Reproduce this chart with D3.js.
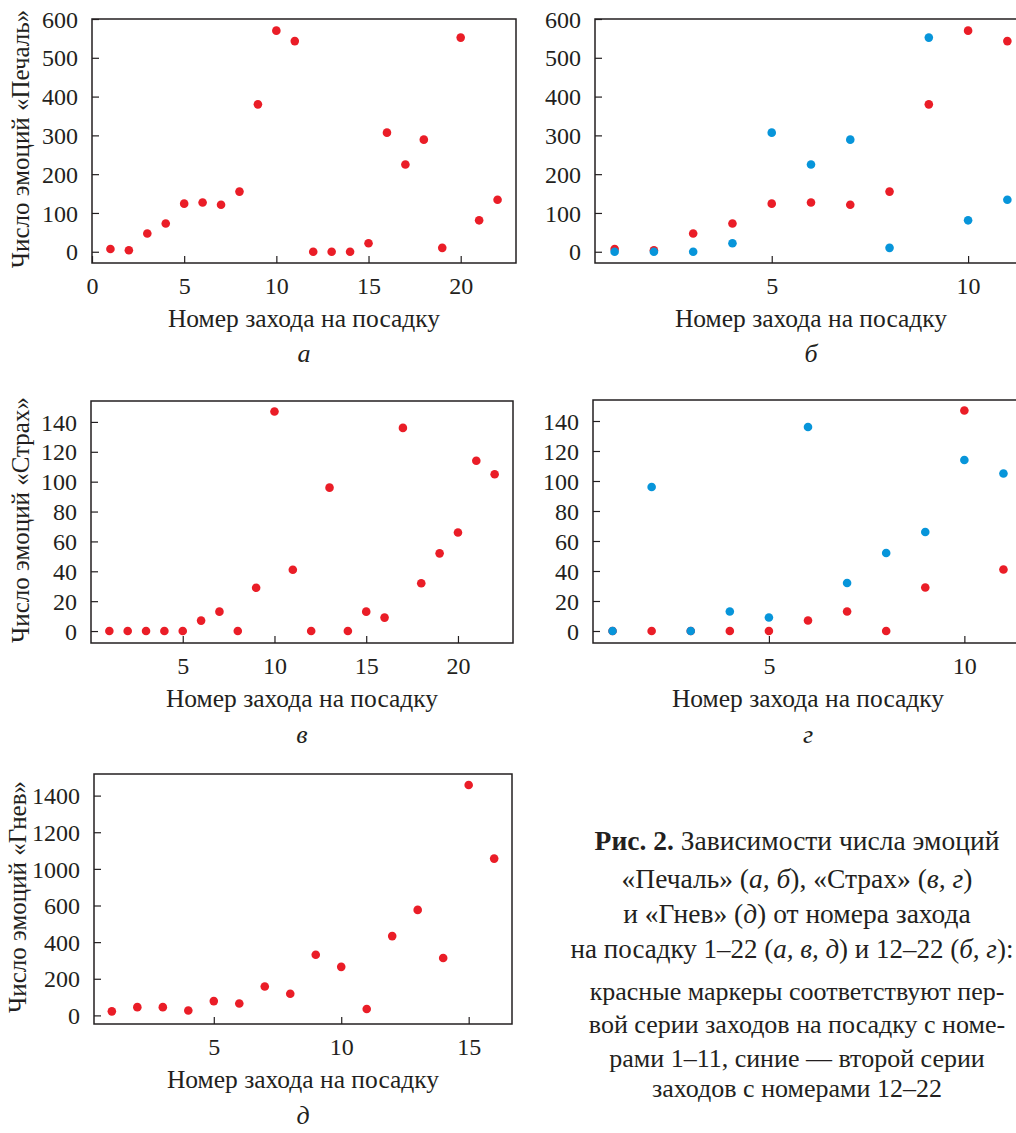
<!DOCTYPE html>
<html>
<head>
<meta charset="utf-8">
<script src="https://cdn.jsdelivr.net/npm/d3@7"></script>
<style>
  body { margin: 0; background: #fff; }
</style>
</head>
<body>
<div id="chart"></div>
<script>
// values
var attemptsAll = [1,2,3,4,5,6,7,8,9,10,11,12,13,14,15,16,17,18,19,20,21,22];
var attemptsSeries = [1,2,3,4,5,6,7,8,9,10,11];
var attemptsAnger = [1,2,3,4,5,6,7,8,9,10,11,12,13,14,15,16];

var sadness = [7,4,47,73,124,127,121,155,380,570,543,0,0,0,22,307,225,289,10,552,81,134];
var fear = [0,0,0,0,0,7,13,0,29,147,41,0,96,0,13,9,136,32,52,66,114,105];
var anger = [22,45,45,27,78,65,158,118,331,265,35,433,576,313,1258,856];

var sadnessTicks = [0,100,200,300,400,500,600];
var fearTicks = [0,20,40,60,80,100,120,140];
var angerTicks = [0,200,400,600,800,1000,1200];
var angerTickLabels = ["0","200","400","600","1000","1200","1400"];

var xLabel = "Номер захода на посадку";
var red = "#ea1d27";
var blue = "#0795da";
var ink = "#231f20";
var serif = "'Liberation Serif', 'Times New Roman', Times, 'DejaVu Serif', serif";

var svgWidth = 1016;
var svgHeight = 1133;

var svg = d3.select("#chart")
  .append("svg")
  .attr("width", svgWidth)
  .attr("height", svgHeight)
  .attr("font-family", serif)
  .style("font-family", serif);

function pairs(xs, ys) {
  return xs.map(function(x, i) { return {x: x, y: ys[i]}; });
}

function drawPanel(p) {
  var g = svg.append("g");
  var x = d3.scaleLinear().domain(p.xDomain).range([p.left, p.right]);
  var y = d3.scaleLinear().domain(p.yDomain).range([p.bottom, p.top]);

  var xAxis = d3.axisBottom(x)
    .tickValues(p.xTicks)
    .tickFormat(d3.format("d"))
    .tickSizeInner(-7)
    .tickSizeOuter(0)
    .tickPadding(14);
  var yAxis = d3.axisLeft(y)
    .tickValues(p.yTicks)
    .tickSizeInner(-7)
    .tickSizeOuter(0)
    .tickPadding(14);
  if (p.yLabels) yAxis.tickFormat(function(d, i) { return p.yLabels[i]; });

  var gx = g.append("g").attr("transform", "translate(0," + p.bottom + ")").call(xAxis);
  var gy = g.append("g").attr("transform", "translate(" + p.left + ",0)").call(yAxis);
  [gx, gy].forEach(function(a) {
    a.attr("font-family", serif).attr("font-size", 24);
    a.select(".domain").remove();
    a.selectAll("line").attr("stroke", ink).attr("stroke-width", 1.2);
    a.selectAll("text").attr("fill", ink).style("font-family", serif);
  });
  gy.selectAll("text").attr("dy", "0.34em");
  gx.selectAll("text").attr("dy", "0.71em");

  g.append("rect")
    .attr("x", p.left).attr("y", p.top)
    .attr("width", p.right - p.left).attr("height", p.bottom - p.top)
    .attr("fill", "none").attr("stroke", ink).attr("stroke-width", 1.5);

  p.series.forEach(function(s) {
    g.selectAll(null)
      .data(s.points)
      .enter().append("circle")
      .attr("cx", function(d) { return x(d.x); })
      .attr("cy", function(d) { return y(d.y); })
      .attr("r", 4.3)
      .attr("fill", s.color);
  });

  var cx = (p.left + p.right) / 2;
  g.append("text")
    .attr("x", cx).attr("y", p.bottom + 64)
    .attr("text-anchor", "middle")
    .attr("font-size", 25.5)
    .attr("fill", ink)
    .text(xLabel);
  g.append("text")
    .attr("x", cx).attr("y", p.bottom + p.letterGap)
    .attr("text-anchor", "middle")
    .attr("font-size", 26)
    .attr("font-style", "italic")
    .attr("fill", ink)
    .text(p.letter);

  if (p.yTitle) {
    g.append("text")
      .attr("transform", "translate(" + p.yTitleX + "," + ((p.top + p.bottom) / 2 - 2) + ") rotate(-90)")
      .attr("text-anchor", "middle")
      .attr("font-size", 25)
      .attr("fill", ink)
      .text(p.yTitle);
  }
}

// а
drawPanel({
  left: 92, right: 516, top: 19, bottom: 263,
  xDomain: [0, 23], yDomain: [-29, 600],
  xTicks: [0,5,10,15,20], yTicks: sadnessTicks,
  series: [{points: pairs(attemptsAll, sadness), color: red}],
  letter: "а", letterGap: 99,
  yTitle: "Число эмоций «Печаль»", yTitleX: 29
});
// б
drawPanel({
  left: 595, right: 1027, top: 19, bottom: 263,
  xDomain: [0.5, 11.5], yDomain: [-29, 600],
  xTicks: [5,10], yTicks: sadnessTicks,
  series: [
    {points: pairs(attemptsSeries, sadness.slice(0, 11)), color: red},
    {points: pairs(attemptsSeries, sadness.slice(11)), color: blue}
  ],
  letter: "б", letterGap: 99
});
// в
drawPanel({
  left: 91, right: 513, top: 401, bottom: 643,
  xDomain: [0, 23], yDomain: [-8, 154],
  xTicks: [5,10,15,20], yTicks: fearTicks,
  series: [{points: pairs(attemptsAll, fear), color: red}],
  letter: "в", letterGap: 100,
  yTitle: "Число эмоций «Страх»", yTitleX: 29
});
// г
drawPanel({
  left: 593, right: 1023, top: 400, bottom: 643,
  xDomain: [0.5, 11.5], yDomain: [-8, 154],
  xTicks: [5,10], yTicks: fearTicks,
  series: [
    {points: pairs(attemptsSeries, fear.slice(0, 11)), color: red},
    {points: pairs(attemptsSeries, fear.slice(11)), color: blue}
  ],
  letter: "г", letterGap: 100
});
// д
drawPanel({
  left: 94, right: 512, top: 774, bottom: 1024,
  xDomain: [0.3, 16.7], yDomain: [-47, 1318],
  xTicks: [5,10,15], yTicks: angerTicks, yLabels: angerTickLabels,
  series: [{points: pairs(attemptsAnger, anger), color: red}],
  letter: "д", letterGap: 100,
  yTitle: "Число эмоций «Гнев»", yTitleX: 26
});

// caption
var caption = [
  {y: 850, x: 797, size: 27.5, parts: [["Рис. 2.", "b"], [" Зависимости числа эмоций"]]},
  {y: 888, x: 797, size: 27.5, parts: [["«Печаль» ("], ["а, б", "i"], ["), «Страх» ("], ["в, г", "i"], [")"]]},
  {y: 923, x: 797, size: 27.5, parts: [["и «Гнев» ("], ["д", "i"], [") от номера захода"]]},
  {y: 958, x: 792, size: 27, parts: [["на посадку 1–22 ("], ["а, в, д", "i"], [") и 12–22 ("], ["б, г", "i"], ["):"]]},
  {y: 1000, x: 797, size: 26, parts: [["красные маркеры соответствуют пер-"]]},
  {y: 1033, x: 797, size: 26, parts: [["вой серии заходов на посадку с номе-"]]},
  {y: 1067, x: 797, size: 26, parts: [["рами 1–11, синие — второй серии"]]},
  {y: 1097, x: 797, size: 26, parts: [["заходов с номерами 12–22"]]}
];
caption.forEach(function(line) {
  var t = svg.append("text")
    .attr("x", line.x).attr("y", line.y)
    .attr("text-anchor", "middle")
    .attr("font-size", line.size)
    .attr("fill", ink);
  line.parts.forEach(function(part) {
    t.append("tspan")
      .attr("font-weight", part[1] === "b" ? "bold" : null)
      .attr("font-style", part[1] === "i" ? "italic" : null)
      .text(part[0]);
  });
});
</script>
</body>
</html>
